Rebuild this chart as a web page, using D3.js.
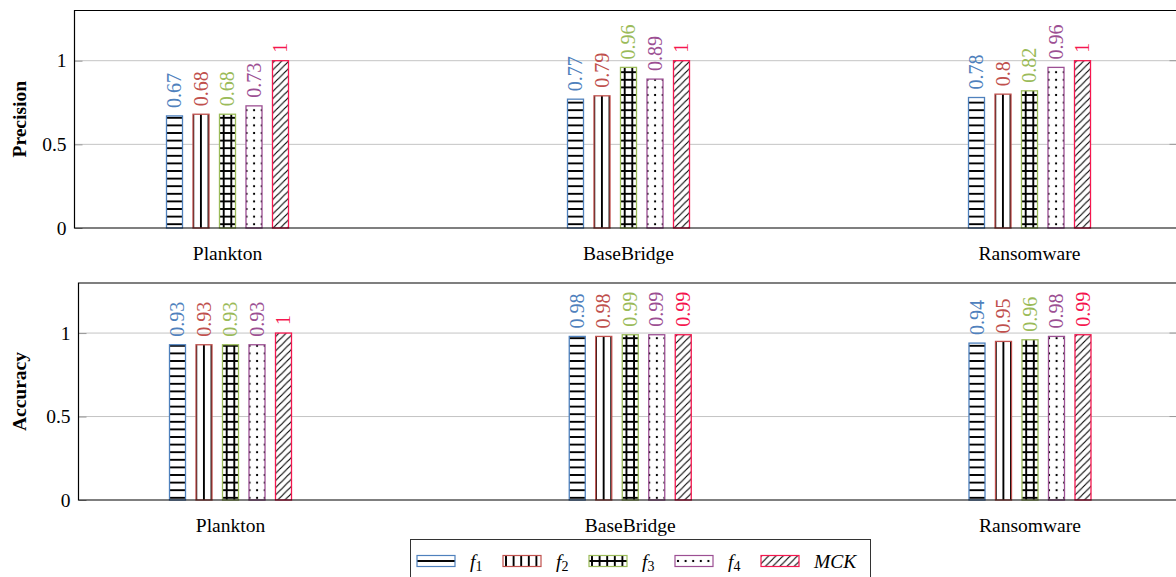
<!DOCTYPE html>
<html>
<head>
<meta charset="utf-8">
<script src="https://cdn.jsdelivr.net/npm/d3@7"></script>
<style>
  html, body { margin: 0; padding: 0; background: #fff; }
  svg { display: block; }
  text { font-family: "Liberation Serif", "Times New Roman", serif; }
</style>
</head>
<body>
<svg id="chart" width="1176" height="577"></svg>
<script>
// ---- data ----
const categories = ["Plankton", "BaseBridge", "Ransomware"];
const seriesNames = ["f1", "f2", "f3", "f4", "MCK"];
const precisionValues = [
  [0.67, 0.68, 0.68, 0.73, 1],    // Plankton
  [0.77, 0.79, 0.96, 0.89, 1],    // BaseBridge
  [0.78, 0.80, 0.82, 0.96, 1]     // Ransomware
];
const accuracyValues = [
  [0.93, 0.93, 0.93, 0.93, 1],
  [0.98, 0.98, 0.99, 0.99, 0.99],
  [0.94, 0.95, 0.96, 0.98, 0.99]
];
const yTicks = [0, 0.5, 1];
const yTickLabels = ["0", "0.5", "1"];

// ---- styles ----
const colors = {
  f1: "#4f81bd",
  f2: "#c0504d",
  f3: "#9bbb59",
  f4: "#9c4f93",
  MCK: "#f5174f"
};
const patternKinds = {
  f1: "hlines", f2: "vlines", f3: "grid", f4: "dots", MCK: "nelines"
};

const svg = d3.select("#chart");
const defs = svg.append("defs");
const P = 7.6; // pattern period

function makePattern(id, kind, dx, dy) {
  const size = kind === "nelines" ? 7.2 : P;
  const p = defs.append("pattern")
    .attr("id", id)
    .attr("patternUnits", "userSpaceOnUse")
    .attr("width", size).attr("height", size);
  if (dx || dy) p.attr("patternTransform", `translate(${dx},${dy})`);
  p.append("rect").attr("width", size).attr("height", size).attr("fill", "#fff");
  const st = (sel) => sel.attr("stroke", "#000").attr("stroke-width", 1)
    .attr("shape-rendering", "crispEdges");
  if (kind === "hlines" || kind === "grid") {
    st(p.append("line").attr("x1", 0).attr("x2", size).attr("y1", size / 2).attr("y2", size / 2));
  }
  if (kind === "vlines" || kind === "grid") {
    st(p.append("line").attr("y1", 0).attr("y2", size).attr("x1", size / 2).attr("x2", size / 2));
  }
  if (kind === "dots") {
    p.append("rect").attr("x", size / 2 - 1).attr("y", size / 2 - 1)
      .attr("width", 2).attr("height", 2).attr("fill", "#000");
  }
  if (kind === "nelines") {
    const dl = (sel) => sel.attr("stroke", "#000").attr("stroke-width", 1.1);
    dl(p.append("line").attr("x1", -1).attr("y1", size + 1).attr("x2", size + 1).attr("y2", -1));
    dl(p.append("line").attr("x1", -1).attr("y1", 1).attr("x2", 1).attr("y2", -1));
    dl(p.append("line").attr("x1", size - 1).attr("y1", size + 1).attr("x2", size + 1).attr("y2", size - 1));
  }
}
seriesNames.forEach(s => makePattern("pat-" + s, patternKinds[s], 0, 0));

// ---- panels ----
const panels = [
  { title: "Precision", values: precisionValues, left: 74.5, right: 1177.5, top: 10.5, bottom: 228, padL: 153, padR: 148, labelY: 259.5 },
  { title: "Accuracy", values: accuracyValues, left: 78.5, right: 1177.5, top: 283, bottom: 500, padL: 152, padR: 147.5, labelY: 532 }
];

const fontSize = 19.5;

panels.forEach(pn => {
  const g = svg.append("g");
  const y = d3.scaleLinear().domain([0, 1.3]).range([pn.bottom, pn.top]);
  const x0 = d3.scalePoint().domain(categories).range([pn.left + pn.padL, pn.right - pn.padR]);
  const x1 = d3.scaleBand().domain(seriesNames).range([-61, 61]).paddingInner(0.396);

  // grid lines
  g.append("g").selectAll("line").data(yTicks.filter(t => t > 0)).join("line")
    .attr("x1", pn.left).attr("x2", pn.right)
    .attr("y1", d => y(d)).attr("y2", d => y(d))
    .attr("stroke", "#c4c4c4").attr("stroke-width", 1);

  // y axis: ticks and labels
  const yAxis = d3.axisLeft(y).tickValues(yTicks).tickSize(-8)
    .tickFormat((d, i) => yTickLabels[i]).tickPadding(8);
  const ya = g.append("g").attr("transform", `translate(${pn.left},0)`).call(yAxis);
  ya.select(".domain").remove();
  ya.selectAll(".tick line").attr("stroke", "#999").attr("stroke-width", 1);
  ya.selectAll(".tick text")
    .attr("font-size", fontSize).attr("fill", "#000")
    .style("font-family", '"Liberation Serif", serif');

  // right-side ticks
  g.append("g").selectAll("line").data(yTicks.filter(t => t > 0)).join("line")
    .attr("x1", pn.right - 8).attr("x2", pn.right)
    .attr("y1", d => y(d)).attr("y2", d => y(d))
    .attr("stroke", "#999").attr("stroke-width", 1);

  // bars
  pn.values.forEach((row, ci) => {
    const cat = categories[ci];
    const grp = g.append("g").attr("transform", `translate(${x0(cat)},0)`);
    const data = seriesNames.map((s, si) => ({ s, v: row[si] }));
    grp.selectAll("rect").data(data).join("rect")
      .attr("x", d => x1(d.s))
      .attr("width", x1.bandwidth())
      .attr("y", d => y(d.v))
      .attr("height", d => y(0) - y(d.v))
      .attr("fill", d => `url(#pat-${d.s})`)
      .attr("stroke", d => colors[d.s])
      .attr("stroke-width", 1.3);
    grp.selectAll("text").data(data).join("text")
      .attr("transform", d => `translate(${x1(d.s) + x1.bandwidth() / 2},${y(d.v) - 8}) rotate(-90)`)
      .attr("dy", "0.33em")
      .attr("text-anchor", "start")
      .attr("font-size", 20)
      .attr("fill", d => colors[d.s])
      .text(d => String(d.v));
  });

  // x axis category labels
  g.append("g").selectAll("text").data(categories).join("text")
    .attr("x", d => x0(d)).attr("y", pn.labelY)
    .attr("text-anchor", "middle")
    .attr("font-size", fontSize)
    .text(d => d);

  // frame
  g.append("path")
    .attr("d", `M${pn.right},${pn.top}H${pn.left}V${pn.bottom}H${pn.right}`)
    .attr("fill", "none").attr("stroke", "#000").attr("stroke-width", 1.2);

  // y title
  g.append("text")
    .attr("transform", `translate(19,${(pn.top + pn.bottom) / 2}) rotate(-90)`)
    .attr("text-anchor", "middle")
    .attr("dy", "0.35em")
    .attr("font-size", fontSize)
    .attr("font-weight", "bold")
    .text(pn.title);
});

// ---- legend ----
const legend = svg.append("g");
legend.append("rect")
  .attr("x", 410.5).attr("y", 539.5).attr("width", 460).attr("height", 45)
  .attr("fill", "#fff").attr("stroke", "#333").attr("stroke-width", 1);
const legendX = d3.scalePoint().domain(seriesNames).range([417, 761]);
const swatchY = 555.5, swatchH = 11, swatchW = 38;
// legend swatches use their own pattern copies, shifted so a line sits mid-swatch
seriesNames.forEach(s => makePattern("lpat-" + s, patternKinds[s],
  legendX(s) + 3 - P / 2, swatchY + swatchH / 2 - P / 2));
const items = legend.selectAll("g.item").data(seriesNames).join("g")
  .attr("class", "item");
items.append("rect")
  .attr("x", d => legendX(d)).attr("y", swatchY).attr("width", swatchW).attr("height", swatchH)
  .attr("fill", d => `url(#lpat-${d})`)
  .attr("stroke", d => colors[d]).attr("stroke-width", 1.2);
items.append("text")
  .attr("x", d => legendX(d) + 53).attr("y", 567.5)
  .attr("font-size", fontSize)
  .each(function (d) {
    const t = d3.select(this);
    if (d === "MCK") {
      t.append("tspan").attr("font-style", "italic").text("MCK");
    } else {
      t.append("tspan").attr("font-style", "italic").text("f");
      t.append("tspan").attr("font-size", 14).attr("dy", 3).text(d.slice(1));
    }
  });
</script>
</body>
</html>
